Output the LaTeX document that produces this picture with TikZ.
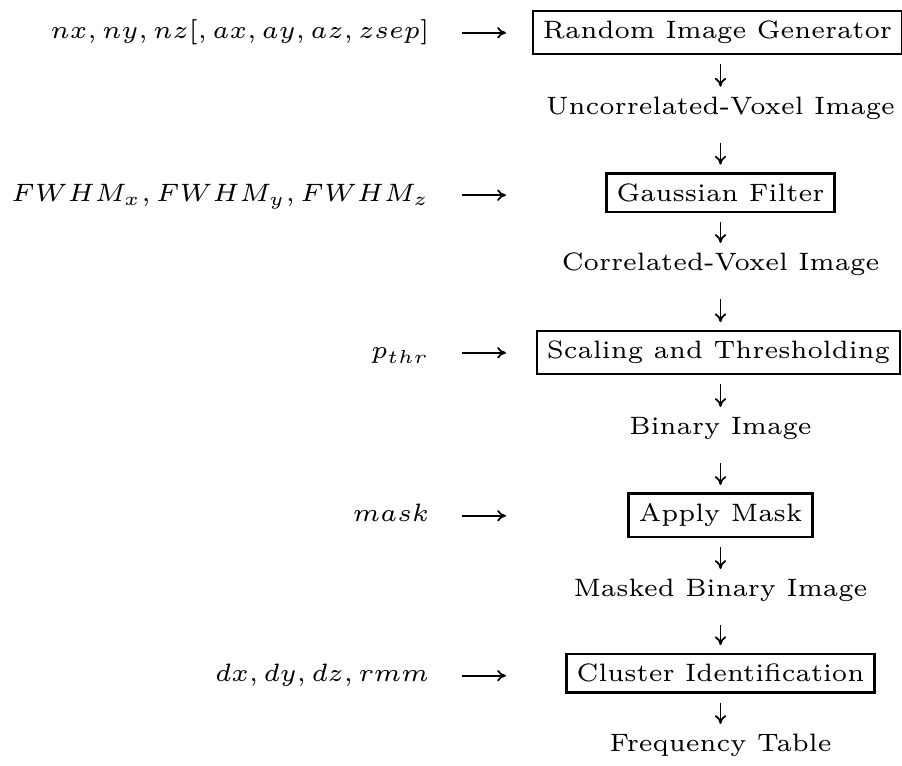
\RequirePackage{fix-cm}
\documentclass[tikz,border=0pt]{standalone}
\usetikzlibrary{arrows.meta,calc}
\DeclareMathSizes{6}{6}{4.5}{3.5}
\begin{document}
\begin{tikzpicture}[
  x=0.2385pt, y=-0.2385pt,
  font=\fontsize{6}{7}\selectfont,
  stage/.style={draw, line width=0.6pt, inner sep=2.4pt, anchor=base},
  data/.style={inner sep=0pt, anchor=base},
  param/.style={inner sep=0pt, anchor=base east},
  flow/.style={line width=0.42pt, -{Computer Modern Rightarrow[length=2.1pt,width=2.7pt]}},
]
\useasboundingbox (0,0) rectangle (902,766);

% processing chain
\node[stage] (rig)  at (717.5,38.8)  {Random Image Generator};
\node[data]  (unc)  at (720.5,114.7) {Uncorrelated-Voxel Image};
\node[stage] (gf)   at (720.5,201.2) {Gaussian Filter};
\node[data]  (cor)  at (720.5,271)   {Correlated-Voxel Image};
\node[stage] (st)   at (718.5,358.8) {Scaling and Thresholding};
\node[data]  (bin)  at (720.5,435)   {Binary Image};
\node[stage] (am)   at (720.5,521.8) {Apply Mask};
\node[data]  (mbin) at (720.5,597)   {Masked Binary Image};
\node[stage] (ci)   at (720.5,681.7) {Cluster Identification};
\node[data]  (ft)   at (720.5,752)   {Frequency Table};

% parameters
\node[param] (p1) at (430,38.8)  {$nx, ny, nz[, ax, ay, az, zsep]$};
\node[param] (p2) at (430,201.2) {$FWHM_x, FWHM_y, FWHM_z$};
\node[param] (p3) at (430,358.8) {$p_{thr}$};
\node[param] (p4) at (430,521.8) {$mask$};
\node[param] (p5) at (430,681.7) {$dx, dy, dz, rmm$};

% input arrow ends
\coordinate (in1) at (506,32.8);
\coordinate (in2) at (506,195.2);
\coordinate (in3) at (506,352.8);
\coordinate (in4) at (506,515.8);
\coordinate (in5) at (506,675.7);

\foreach \i in {1,...,5}
  \draw[flow, shorten <=7.6pt] (p\i.east |- in\i) -- (in\i);

% box -> image arrows, kept on the image's vertical line
\foreach \a/\b in {rig/unc, gf/cor, st/bin, am/mbin, ci/ft}
  \draw[flow] ($(\b.base |- \a.south)+(0,9)$) -- ($(\b.base)+(0,-28)$);

% image -> box arrows
\foreach \a/\b in {unc/gf, cor/st, bin/am, mbin/ci}
  \draw[flow] ($(\a.base)+(0,28)$) -- ($(\a.base |- \b.north)+(0,-7.5)$);
\end{tikzpicture}
\end{document}
